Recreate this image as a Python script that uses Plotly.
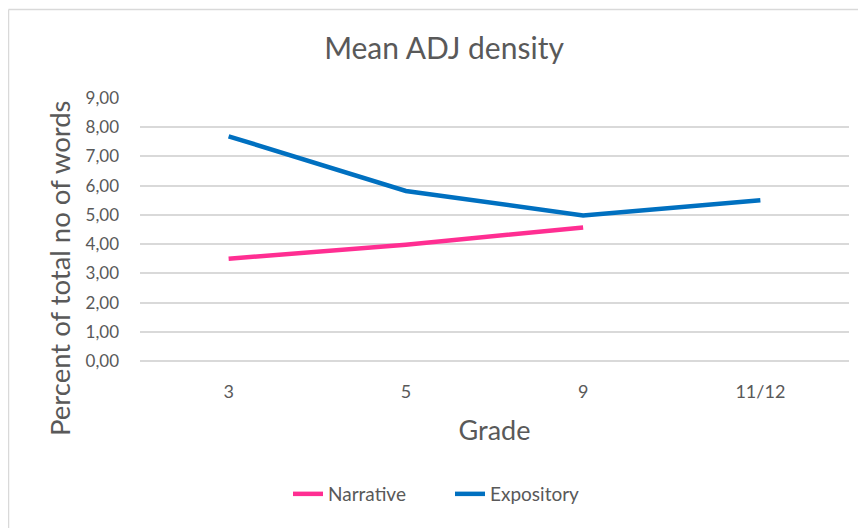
import plotly.graph_objects as go

# Dados
grades = ["3", "5", "9", "11/12"]
narrative = [3.50, 3.98, 4.57, None]
expository = [7.69, 5.82, 4.98, 5.50]
y_ticks = [0, 1, 2, 3, 4, 5, 6, 7, 8, 9]

FONT = "Lato, Open Sans, sans-serif"
GRAY = "#595959"

# a página html tem 8px de margem no body, então a figura é 8px menor
W, H = 858, 520
L, R, T, B = 132, 17, 90, 167
PW, PH = W - L - R, H - T - B

fig = go.Figure()

fig.add_trace(go.Scatter(
    x=grades, y=narrative, mode="lines", name="Narrative",
    line=dict(color="#FF2E92", width=4.5), connectgaps=False
))
fig.add_trace(go.Scatter(
    x=grades, y=expository, mode="lines", name="Expository",
    line=dict(color="#0070C0", width=4.5)
))

fig.update_layout(
    width=W, height=H,
    margin=dict(l=L, r=R, t=T, b=B),
    paper_bgcolor="white", plot_bgcolor="white",
    separators=",.",
    font=dict(family=FONT, color=GRAY),
    title=dict(text="Mean ADJ density", x=(444 - 8) / W, xanchor="center",
               y=1 - 40 / H, yanchor="middle", yref="container",
               font=dict(size=30, color=GRAY)),
    legend=dict(orientation="h", x=(450 - 8 - L) / PW, xanchor="center",
                y=-(494 - 8 - T - PH) / PH, yanchor="middle",
                entrywidth=117, font=dict(size=19, color=GRAY)),
    showlegend=True,
)

fig.update_xaxes(
    type="category", range=[-0.5, 3.5], showgrid=False, showline=False,
    ticks="", ticklabelstandoff=18, tickfont=dict(size=18, color=GRAY),
    title=dict(text="Grade", font=dict(size=27, color=GRAY), standoff=20),
)
fig.update_yaxes(
    range=[0, 9], tickvals=y_ticks, tickformat=".2f",
    showgrid=True, gridcolor="#D9D9D9", gridwidth=1.5,
    zeroline=True, zerolinecolor="#D9D9D9", zerolinewidth=1.5,
    showline=False, ticks="", ticklabelstandoff=20,
    tickfont=dict(size=17, color=GRAY),
)

# título do eixo y (no original fica um pouco abaixo do centro)
fig.add_annotation(text="Percent of total no of words", textangle=-90,
                   xref="paper", yref="paper",
                   x=(59 - 8 - L) / PW, y=(PH + T + 8 - 268) / PH,
                   xanchor="center", yanchor="middle", showarrow=False,
                   font=dict(size=27.5, color=GRAY))

# Borda do gráfico (só topo e esquerda visíveis no recorte)
bx = (0.5 - L) / PW
by = (PH + T - 1.5) / PH
fig.add_shape(type="line", xref="paper", yref="paper",
              x0=bx, x1=1.2, y0=by, y1=by,
              line=dict(color="#D9D9D9", width=1.5))
fig.add_shape(type="line", xref="paper", yref="paper",
              x0=bx, x1=bx, y0=by, y1=-1,
              line=dict(color="#D9D9D9", width=1.5))

fig.write_html("out.html")
